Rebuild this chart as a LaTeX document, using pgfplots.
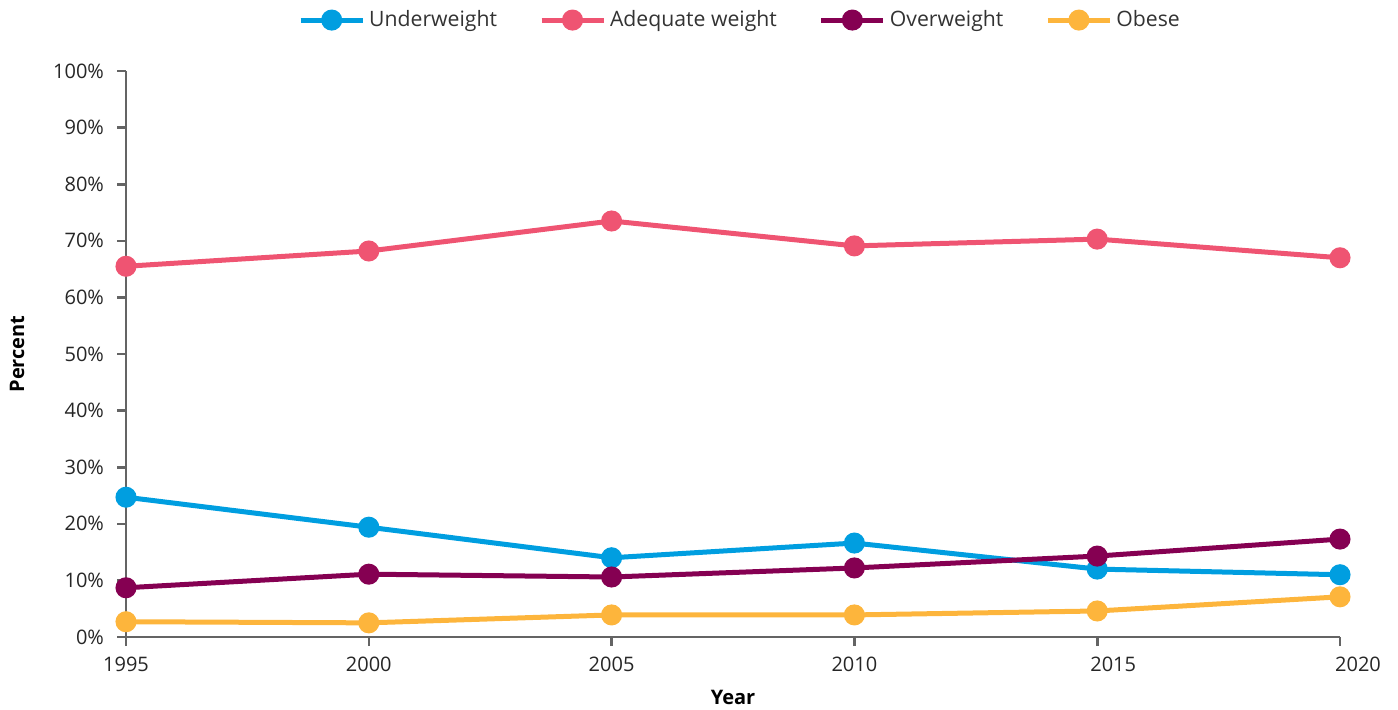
\documentclass[border=0pt]{standalone}
\usepackage{fontspec}
\setmainfont{Open Sans}
\usepackage{pgfplots}
\pgfplotsset{compat=1.18}

\definecolor{cunder}{RGB}{0,158,224}
\definecolor{cadeq}{RGB}{239,84,114}
\definecolor{cover}{RGB}{133,0,82}
\definecolor{cobese}{RGB}{253,181,60}
\definecolor{caxis}{RGB}{100,100,100}

\begin{document}
\begin{tikzpicture}
\begin{axis}[
    scale only axis,
    width=607pt, height=283pt,
    xmin=1995, xmax=2020,
    ymin=0, ymax=100,
    xtick={1995,2000,2005,2010,2015,2020},
    xticklabels={1995,2000,2005,2010,\hspace*{16pt}2015,\hspace*{18pt}2020},
    ytick={0,10,...,100},
    yticklabel={\pgfmathprintnumber{\tick}\%},
    /pgf/number format/assume math mode=true,
    axis x line*=bottom, axis y line*=left,
    axis line style={caxis, line width=1.3pt},
    every tick/.style={caxis, line width=1.3pt},
    tick align=outside,
    major tick length=4.5pt,
    tick label style={font=\fontsize{10}{12}\selectfont, text=black!85},
    yticklabel style={xshift=-3pt},
    xticklabel style={yshift=-2pt},
    xlabel={\textbf{Year}},
    ylabel={\textbf{Percent}},
    label style={font=\fontsize{10}{12}\selectfont},
    xlabel style={at={(axis description cs:0.5,-0.106)}, anchor=center},
    ylabel style={at={(axis description cs:-0.0898,0.5)}, anchor=center},
    clip=false,
    legend columns=4,
    legend style={draw=none, at={(axis description cs:0.5066,1.09)}, anchor=center,
        font=\fontsize{10.6}{12}\selectfont, text=black!80,
        /tikz/every even column/.append style={column sep=19pt}},
    legend image code/.code={
        \draw[#1, mark=none] (0pt,0pt) -- (31pt,0pt);
        \fill[#1] (15.5pt,0pt) circle (4pt);
    },
    every axis plot/.append style={line width=2.5pt, mark=*, mark size=4pt},
]
\addplot[cunder, mark options={fill=cunder}] coordinates {
    (1995,24.7) (2000,19.4) (2005,14.0) (2010,16.6) (2015,12.0) (2020,11.0)};
\addlegendentry{Underweight}
\addplot[cadeq, mark options={fill=cadeq}] coordinates {
    (1995,65.5) (2000,68.2) (2005,73.5) (2010,69.1) (2015,70.3) (2020,67.0)};
\addlegendentry{Adequate weight}
\addplot[cover, mark options={fill=cover}] coordinates {
    (1995,8.7) (2000,11.1) (2005,10.6) (2010,12.2) (2015,14.3) (2020,17.3)};
\addlegendentry{Overweight}
\addplot[cobese, mark options={fill=cobese}] coordinates {
    (1995,2.7) (2000,2.5) (2005,3.9) (2010,3.9) (2015,4.6) (2020,7.1)};
\addlegendentry{Obese}
\end{axis}
\pgfresetboundingbox
\path (-63pt,-36pt) rectangle (636pt,318.5pt);
\end{tikzpicture}
\end{document}
